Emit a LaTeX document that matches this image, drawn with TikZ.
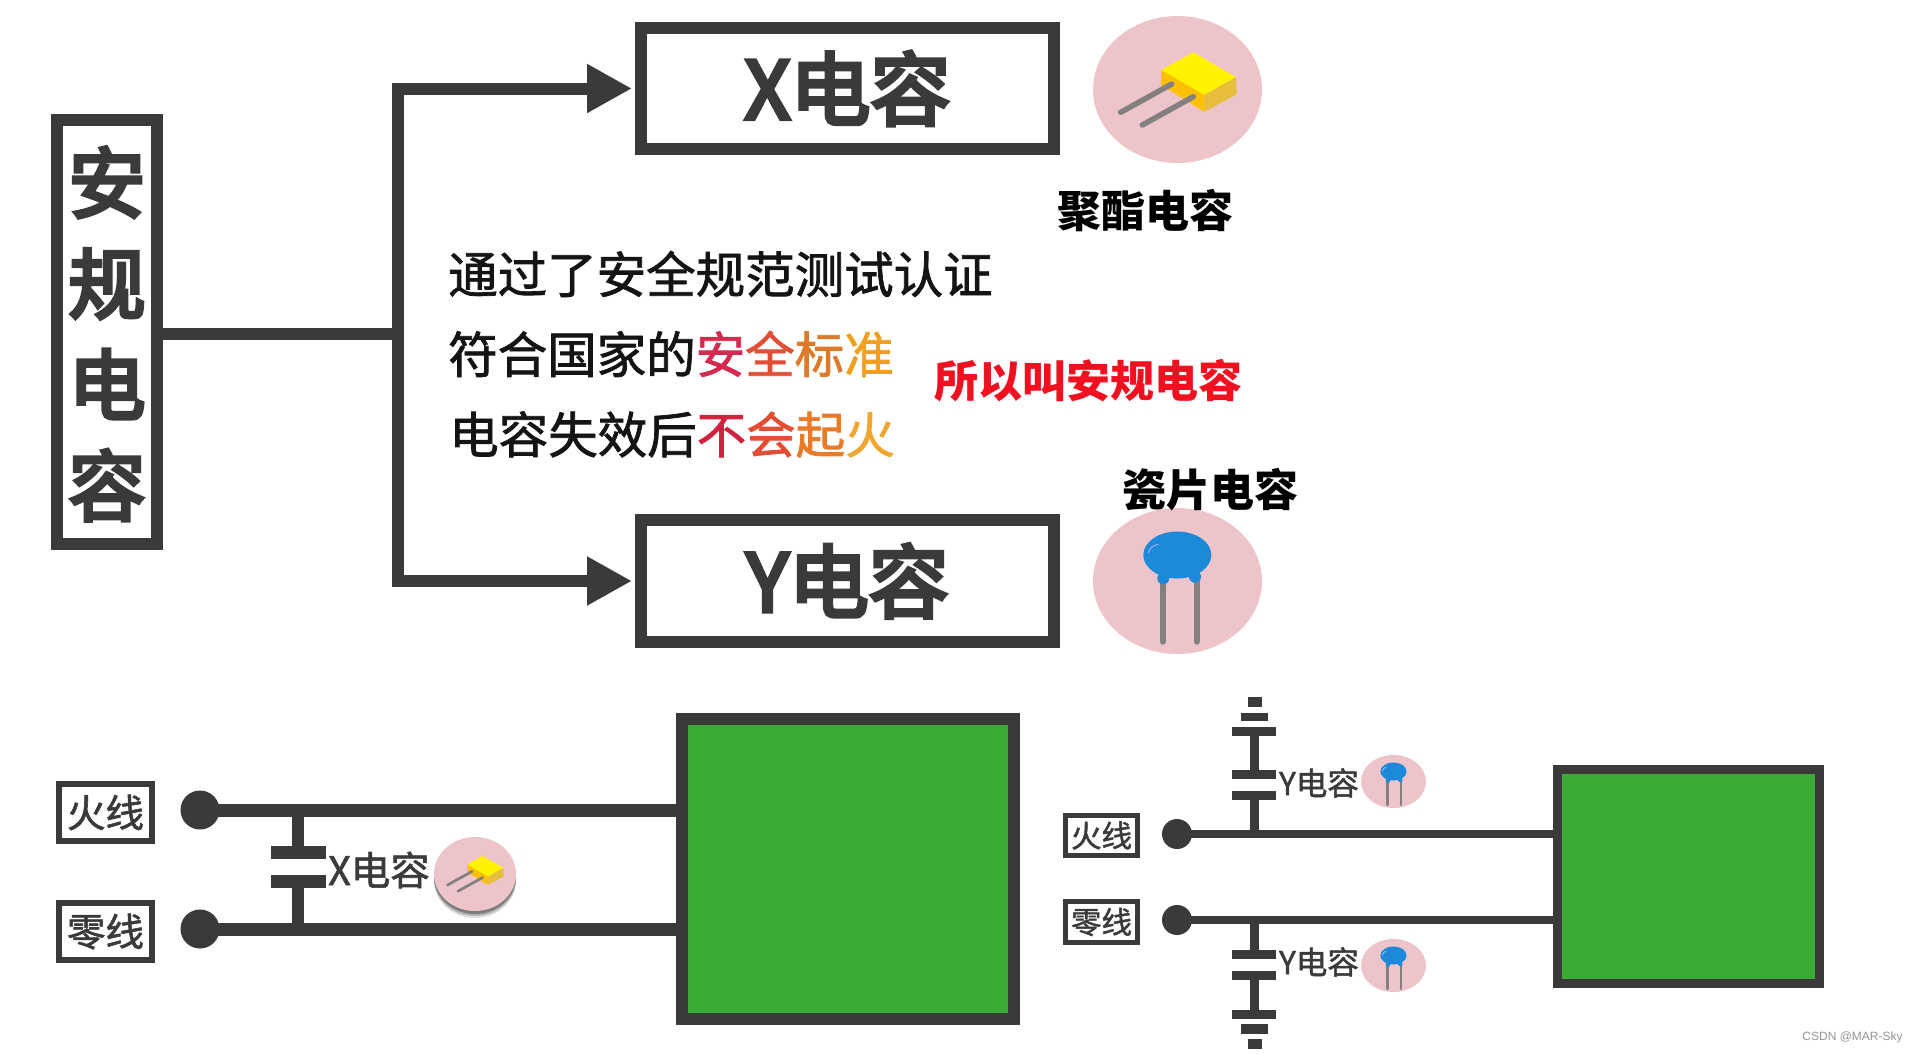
\documentclass[tikz,border=0pt]{standalone}
\usepackage{fontspec}
\setmainfont{Noto Sans CJK SC}
\newfontfamily\medf[FakeBold=1.5]{Noto Sans CJK SC}
\newfontfamily\heavyf[FakeBold=5]{Noto Sans CJK SC}
\newfontfamily\wmfont{Liberation Sans}
\usetikzlibrary{arrows.meta,shapes.geometric}
\definecolor{ink}{HTML}{3A3A3A}
\definecolor{disc}{HTML}{ECC4CA}
\definecolor{board}{HTML}{3CAB35}
\definecolor{leadgray}{HTML}{858080}
\newcommand{\fs}[1]{\fontsize{#1}{#1}\selectfont}
\tikzset{
  x=1pt,y=-1pt,
  framebox/.style={draw=ink,fill=white,rectangle,inner sep=0pt,text=ink},
  greenbox/.style={draw=ink,fill=board,rectangle,inner sep=0pt},
  mainarrow/.style={draw=ink,line width=12pt,-{Triangle[length=45pt,width=46pt]},shorten >=3pt},
  mainwire/.style={draw=ink,line width=12pt},
  wire/.style={draw=ink},
  dotnode/.style={circle,fill=ink,inner sep=0pt},
  plate/.style={rectangle,fill=ink,inner sep=0pt},
  pinkdisc/.style={ellipse,fill=disc,inner sep=0pt},
  txt/.style={inner sep=0pt,anchor=west,text=black!92},
  xcapicon/.pic={
    \fill[yellow!100!red] (-16.5,-19.5) -- (15.8,-37.2) -- (58.5,-12.2) -- (26.8,5.5) -- cycle;
    \fill[fill={rgb,255:red,255;green,192;blue,0}] (-16.5,-19.5) -- (26.8,5.5) -- (26.8,22.2) -- (-16.5,-4.5) -- cycle;
    \fill[fill={rgb,255:red,230;green,190;blue,60}] (26.8,5.5) -- (58.5,-12.2) -- (59.2,4.8) -- (26.8,22.2) -- cycle;
    \draw[leadgray,line width=#1,line cap=round] (-56.8,22.8) -- (-5.8,-5.5);
    \draw[leadgray,line width=#1,line cap=round] (-35.2,35.5) -- (15.8,7.2);
  },
  ycapicon/.pic={
    \draw[leadgray,line width=#1,line cap=round] (-14.8,-1) -- (-14.8,60.7);
    \draw[leadgray,line width=#1,line cap=round] (19.2,-1) -- (19.2,60.7);
    \fill[fill={rgb,255:red,28;green,138;blue,216}] (-0.2,-26) ellipse [x radius=34,y radius=23.5];
    \fill[fill={rgb,255:red,28;green,138;blue,216}] (-14.2,-2.7) circle [radius=6];
    \fill[fill={rgb,255:red,28;green,138;blue,216}] (17.5,-4.3) circle [radius=6];
    \draw[white!70!blue,line width=.8pt] (-29.2,-27.7) .. controls (-28,-33) and (-24,-36) .. (-19.2,-36.7);
  }
}
\begin{document}
\begin{tikzpicture}
\useasboundingbox (0,0) rectangle (1917,1053);
% ---- top: main tree
\node[framebox,line width=12pt,minimum width=100pt,minimum height=424pt] (main) at (107,332) {};
\node[inner sep=0pt,text=ink,align=center,font=\heavyf\fontsize{77}{101}\selectfont] (maintext) at (107,334) {安\\规\\电\\容};
\node[framebox,line width=12pt,minimum width=413pt,minimum height=121pt,font=\heavyf\fs{80}] (xbox) at (847.5,88.5) {X电容};
\node[framebox,line width=12pt,minimum width=413pt,minimum height=122pt,font=\heavyf\fs{80}] (ybox) at (847.5,581) {Y电容};
\coordinate (fork) at (398,334);
\draw[mainwire] (main.east |- fork) -- (fork);
\draw[mainarrow] (fork) |- (xbox.west);
\draw[mainarrow] (fork) |- (ybox.west);
% ---- top: icons
\node[pinkdisc,minimum width=169pt,minimum height=147pt] (xdisc) at (1177.5,89.5) {};
\pic at (xdisc.center) {xcapicon=5.5pt};
\node[pinkdisc,minimum width=169pt,minimum height=146pt] (ydisc) at (1177.5,581) {};
\pic at (ydisc.center) {ycapicon=6pt};
\node[font=\bfseries\fs{44},text=black,inner sep=0pt] (xname) at (1145,211) {聚酯电容};
\node[font=\bfseries\fs{44},text=black,inner sep=0pt] (yname) at (1210,490) {瓷片电容};
% ---- top: text
\node[txt,font=\medf\fs{49.5}] (t1) at (448,274) {通过了安全规范测试认证};
\node[txt,font=\medf\fs{49.5}] (t2) at (448,354) {符合国家的\textcolor[HTML]{D6294F}{安}\textcolor[HTML]{E04E35}{全}\textcolor[HTML]{DE7A2C}{标}\textcolor[HTML]{F0A020}{准}};
\node[txt,font=\medf\fs{49.5}] (t3) at (449,434.5) {电容失效后\textcolor[HTML]{CF2340}{不}\textcolor[HTML]{E24D33}{会}\textcolor[HTML]{E87A28}{起}\textcolor[HTML]{F0A630}{火}};
\node[inner sep=0pt,font=\bfseries\fs{44},text={rgb,255:red,240;green,16;blue,32}] (why) at (1088,381) {所以叫安规电容};
% ---- bottom left
\node[greenbox,line width=12pt,minimum width=332pt,minimum height=300pt] (lgreen) at (848,869) {};
\node[framebox,line width=6pt,minimum width=93pt,minimum height=57pt,font=\medf\fs{38.5}] (lfire) at (105.5,812.5) {火线};
\node[framebox,line width=6pt,minimum width=93pt,minimum height=57pt,font=\medf\fs{38.5}] (lzero) at (105.5,931.5) {零线};
\node[dotnode,minimum size=39pt] (ldf) at (200,810) {};
\node[dotnode,minimum size=39pt] (ldz) at (200,929) {};
\draw[wire,line width=13pt] (ldf.center) -- (ldf.center -| lgreen.west);
\draw[wire,line width=13pt] (ldz.center) -- (ldz.center -| lgreen.west);
\node[plate,minimum width=55pt,minimum height=13pt] (lp1) at (298,852.5) {};
\node[plate,minimum width=55pt,minimum height=13pt] (lp2) at (298,881.5) {};
\draw[wire,line width=12pt] (lp1.center) -- (lp1.center |- ldf.center);
\draw[wire,line width=12pt] (lp2.center) -- (lp2.center |- ldz.center);
\node[inner sep=0pt,text=ink,font=\medf\fs{39.5}] (lxlabel) at (379,870) {X电容};
\foreach \dy/\op in {7/.12,5/.2,3/.3}{
  \fill[black,opacity=\op] (475,874+\dy) ellipse [x radius=41,y radius=37];
}
\node[pinkdisc,minimum width=82pt,minimum height=74pt] (lxdisc) at (475,874) {};
\pic[scale=.485] at (lxdisc.center) {xcapicon=2.7pt};
% ---- bottom right
\node[greenbox,line width=9pt,minimum width=262pt,minimum height=214pt] (rgreen) at (1688.5,876.5) {};
\node[framebox,line width=5pt,minimum width=72pt,minimum height=40pt,font=\medf\fs{30.5}] (rfire) at (1101.5,835.5) {火线};
\node[framebox,line width=5pt,minimum width=72pt,minimum height=41pt,font=\medf\fs{30.5}] (rzero) at (1101.5,922) {零线};
\node[dotnode,minimum size=30pt] (rdf) at (1177,834) {};
\node[dotnode,minimum size=30pt] (rdz) at (1177,920) {};
\draw[wire,line width=8pt] (rdf.center) -- (rdf.center -| rgreen.west);
\draw[wire,line width=8pt] (rdz.center) -- (rdz.center -| rgreen.west);
% upper Y capacitor
\node[plate,minimum width=44pt,minimum height=9pt] (u1) at (1254,795.5) {};
\node[plate,minimum width=44pt,minimum height=9pt] (u2) at (1254,774.5) {};
\node[plate,minimum width=44pt,minimum height=9pt] (u3) at (1254,731.5) {};
\node[plate,minimum width=27pt,minimum height=8.5pt] (u4) at (1254.5,717) {};
\node[plate,minimum width=14pt,minimum height=10pt] (u5) at (1255,702) {};
\draw[wire,line width=9pt] (u1.center) -- (u1.center |- rdf.center);
\draw[wire,line width=9pt] (u2.center) -- (u3.center);
% lower Y capacitor
\node[plate,minimum width=44pt,minimum height=9pt] (d1) at (1254,954.5) {};
\node[plate,minimum width=44pt,minimum height=9pt] (d2) at (1254,975) {};
\node[plate,minimum width=44pt,minimum height=9pt] (d3) at (1254,1014.5) {};
\node[plate,minimum width=27pt,minimum height=9.5pt] (d4) at (1254.5,1029) {};
\node[plate,minimum width=14pt,minimum height=10pt] (d5) at (1255,1044) {};
\draw[wire,line width=9pt] (d1.center) -- (d1.center |- rdz.center);
\draw[wire,line width=9pt] (d2.center) -- (d3.center);
% labels and icons
\node[inner sep=0pt,text=ink,font=\medf\fs{31.5}] (ulabel) at (1319,783) {Y电容};
\node[inner sep=0pt,text=ink,font=\medf\fs{31.5}] (dlabel) at (1319,962) {Y电容};
\node[pinkdisc,minimum width=65pt,minimum height=53pt] (udisc) at (1393.5,781.5) {};
\pic[scale=.385] at (udisc.center) {ycapicon=2.7pt};
\node[pinkdisc,minimum width=65pt,minimum height=53pt] (ddisc) at (1393.5,965.5) {};
\pic[scale=.385] at (ddisc.center) {ycapicon=2.7pt};
% watermark
\node[inner sep=0pt,text=black!42,font=\wmfont\fs{12}] (wm) at (1852.5,1037) {CSDN @MAR-Sky};
\end{tikzpicture}
\end{document}
